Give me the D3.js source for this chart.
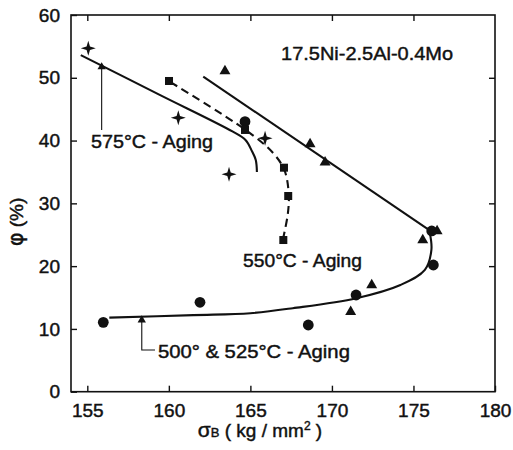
<!DOCTYPE html>
<html>
<head>
<meta charset="utf-8">
<script src="https://cdn.jsdelivr.net/npm/d3@7"></script>
<style>
  html, body { margin: 0; padding: 0; background: #fff; }
  svg { display: block; }
  text { font-family: "Liberation Sans", Arial, sans-serif; fill: #111; stroke: #111; stroke-width: 0.45px; }
</style>
</head>
<body>
<svg id="chart" width="513" height="450"></svg>
<script>
// Tensile strength σB (kg/mm²) vs reduction of area φ (%) for 17.5Ni-2.5Al-0.4Mo steel

const xTicks = [155, 160, 165, 170, 175, 180];
const yTicks = [0, 10, 20, 30, 40, 50, 60];

// measured points, [σB, φ]
const starPts = [[155.06, 54.7], [160.58, 43.64], [163.69, 34.63], [165.9, 40.36]];
const squarePts = [[160.01, 49.49], [164.67, 41.69], [167.06, 35.68], [167.32, 31.17], [167.02, 24.16]];
const trianglePts = [[163.44, 51.08], [168.66, 39.45], [169.58, 36.54], [175.57, 24.16], [172.44, 17.0], [171.15, 12.74], [176.45, 25.6]];
const circlePts = [[176.12, 25.6], [176.22, 20.18], [171.48, 15.4], [168.55, 10.62], [161.91, 14.24], [155.98, 11.05], [164.67, 43.01]];

// fitted trend curves
const curve575 = [[154.6, 53.6], [159.5, 47.2], [163.9, 41.45], [164.7, 40.1], [165.1, 38.3], [165.33, 36.9], [165.4, 35.0]];
const curve550 = [[160.1, 49.3], [164.7, 41.7], [166.4, 38.0], [167.1, 35.2], [167.35, 31.5], [167.3, 28.4], [167.0, 24.3]];
const curveUpper = [[162.11, 50.18], [175.95, 25.79]];
const curve500 = [[156.35, 11.8], [161.5, 12.2], [165.0, 12.5], [167.6, 13.3], [171.5, 14.9], [174.2, 17.0], [175.7, 19.4], [176.1, 22.6], [176.0, 25.3]];

const svg = d3.select("#chart");
const x = d3.scaleLinear().domain([154, 180]).range([71, 495]);
const y = d3.scaleLinear().domain([0, 60]).range([391.7, 15]);

// frame
svg.append("rect")
  .attr("x", x(154)).attr("y", y(60))
  .attr("width", x(180) - x(154)).attr("height", y(0) - y(60))
  .attr("fill", "none").attr("stroke", "#111").attr("stroke-width", 1.6);

const tickFont = 19;
const bottomAxis = d3.axisBottom(x).tickValues(xTicks).tickSizeInner(-6).tickSizeOuter(0).tickPadding(12);
const leftAxis = d3.axisLeft(y).tickValues(yTicks).tickSizeInner(-6).tickSizeOuter(0).tickPadding(11);
const topAxis = d3.axisTop(x).tickValues(xTicks.slice(0, -1)).tickSizeInner(-6).tickSizeOuter(0).tickFormat("");
const rightAxis = d3.axisRight(y).tickValues(yTicks.slice(1, -1)).tickSizeInner(-6).tickSizeOuter(0).tickFormat("");

function styleAxis(g) {
  g.select(".domain").remove();
  g.selectAll(".tick line").attr("stroke", "#111").attr("stroke-width", 1.4);
  g.selectAll(".tick text").attr("font-size", tickFont).attr("fill", "#111")
    .attr("font-family", "'Liberation Sans', Arial, sans-serif");
}
svg.append("g").attr("transform", `translate(0,${y(0)})`).call(bottomAxis).call(styleAxis);
svg.append("g").attr("transform", `translate(${x(154)},0)`).call(leftAxis).call(styleAxis);
svg.append("g").attr("transform", `translate(0,${y(60)})`).call(topAxis).call(styleAxis);
svg.append("g").attr("transform", `translate(${x(180)},0)`).call(rightAxis).call(styleAxis);

// axis titles
const xt = svg.append("text")
  .attr("x", 260).attr("y", 437)
  .attr("text-anchor", "middle").attr("font-size", 19);
xt.append("tspan").attr("font-size", 21).text("σ");
xt.append("tspan").attr("font-size", 13).text("B");
xt.append("tspan").text(" ( kg / mm");
xt.append("tspan").attr("font-size", 12).attr("dy", -7).text("2");
xt.append("tspan").attr("dy", 7).text(" )");

const yt = svg.append("text")
  .attr("transform", `translate(23,222) rotate(-90)`)
  .attr("text-anchor", "middle").attr("font-size", 19);
yt.append("tspan").attr("font-size", 21).attr("font-family", "'DejaVu Sans', sans-serif").text("φ");
yt.append("tspan").text(" (%)");

// curves
const line = d3.line().x(d => x(d[0])).y(d => y(d[1])).curve(d3.curveCatmullRom.alpha(0.5));
const lines = svg.append("g").attr("fill", "none").attr("stroke", "#111").attr("stroke-width", 2.1);
lines.append("path").attr("d", line(curve575));
lines.append("path").attr("d", line(curveUpper));
lines.append("path").attr("d", line(curve500));
lines.append("path").attr("d", line(curve550)).attr("stroke-dasharray", "8,5");

// markers
const marks = svg.append("g").attr("fill", "#111");
marks.selectAll(".circ").data(circlePts).join("circle")
  .attr("cx", d => x(d[0])).attr("cy", d => y(d[1])).attr("r", 5.4);
marks.selectAll(".sq").data(squarePts).join("rect")
  .attr("x", d => x(d[0]) - 4).attr("y", d => y(d[1]) - 4).attr("width", 8).attr("height", 8);
const tri = d3.symbol().type(d3.symbolTriangle).size(52);
marks.selectAll(".tri").data(trianglePts).join("path")
  .attr("d", tri).attr("transform", d => `translate(${x(d[0])},${y(d[1])})`);
const star = "M0,-7.5 L1.7,-1.7 L7.5,0 L1.7,1.7 L0,7.5 L-1.7,1.7 L-7.5,0 L-1.7,-1.7 Z";
marks.selectAll(".star").data(starPts).join("path")
  .attr("d", star).attr("transform", d => `translate(${x(d[0])},${y(d[1])})`);

// annotations
const notes = [
  { text: "17.5Ni-2.5Al-0.4Mo", at: [166.88, 52.84], width: 172 },
  { text: "575°C - Aging", at: [155.23, 38.82], width: 122 },
  { text: "550°C - Aging", at: [164.55, 19.86], width: 119 },
  { text: "500° & 525°C - Aging", at: [159.33, 5.37], width: 192 }
];
svg.selectAll(".note").data(notes).join("text")
  .attr("x", d => x(d.at[0])).attr("y", d => y(d.at[1]))
  .attr("font-size", 19)
  .attr("textLength", d => d.width).attr("lengthAdjust", "spacingAndGlyphs")
  .text(d => d.text);

// leader arrows to the curves
const arrow575 = [[155.88, 41.7], [155.88, 52.2]];
const arrow500 = [[159.15, 6.64], [158.34, 6.64], [158.34, 11.9]];
const lead = d3.line().x(d => x(d[0])).y(d => y(d[1]));
const leaders = svg.append("g").attr("fill", "none").attr("stroke", "#111").attr("stroke-width", 1.1);
leaders.append("path").attr("d", lead(arrow575));
leaders.append("path").attr("d", lead(arrow500));
const head = d3.symbol().type(d3.symbolTriangle).size(30);
[arrow575[arrow575.length - 1], arrow500[arrow500.length - 1]].forEach(p => {
  svg.append("path").attr("d", head).attr("fill", "#111")
    .attr("transform", `translate(${x(p[0])},${y(p[1]) + 3})`);
});
</script>
</body>
</html>
